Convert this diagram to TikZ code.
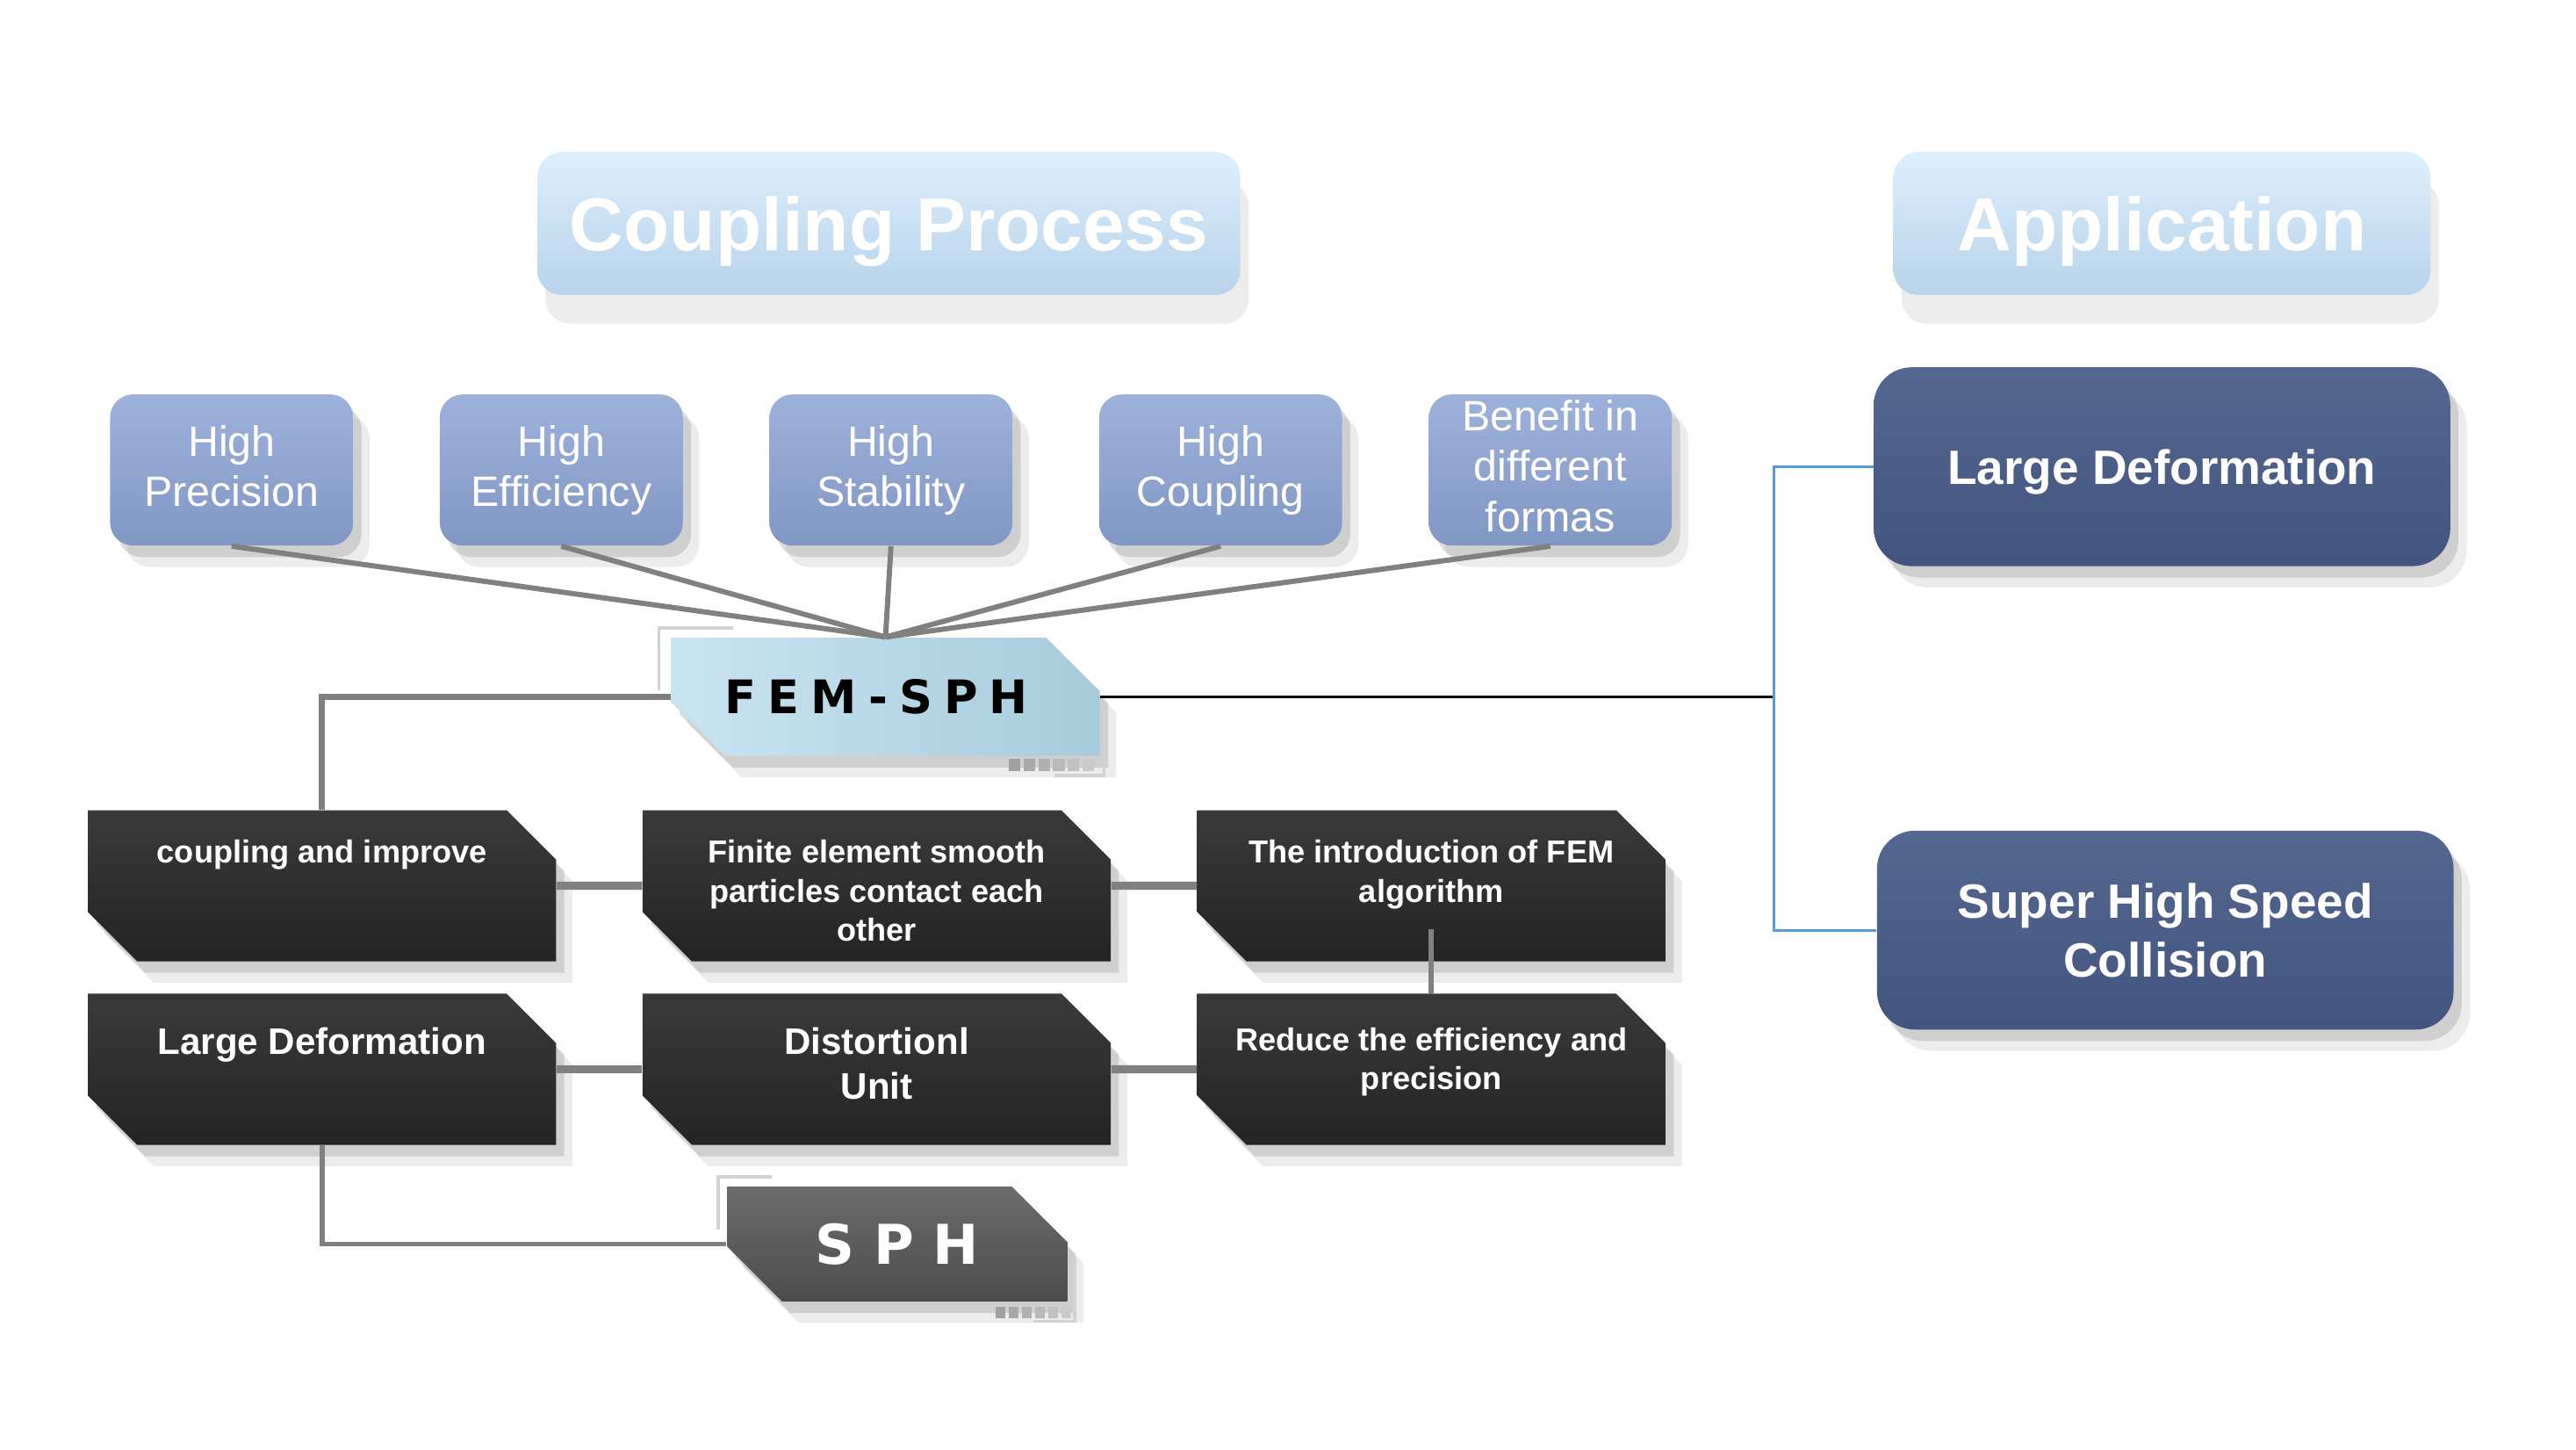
\documentclass[tikz,border=0pt]{standalone}
\usepackage{fontspec}
\setmainfont{Liberation Sans}
\newfontfamily\heavyfont{DejaVu Sans}
\usetikzlibrary{positioning}
\usetikzlibrary{calc}
\usetikzlibrary{shapes.misc}
\usetikzlibrary{shadows}
\definecolor{titlelight}{HTML}{DCEFFE}
\definecolor{titledark}{HTML}{B8D3EA}
\definecolor{featlight}{HTML}{9DB2DB}
\definecolor{featdark}{HTML}{8197C4}
\definecolor{applight}{HTML}{53678F}
\definecolor{appdark}{HTML}{42557F}
\definecolor{darklight}{HTML}{3A3A3A}
\definecolor{darkdark}{HTML}{242424}
\definecolor{femlight}{HTML}{C9E4F1}
\definecolor{femdark}{HTML}{A8CBDC}
\definecolor{sphlight}{HTML}{6C6C6C}
\definecolor{sphdark}{HTML}{4C4C4C}
\definecolor{linkgray}{HTML}{808080}
\definecolor{linkblue}{HTML}{5B9BD5}
\definecolor{decogray}{HTML}{D2D2D2}
\tikzstyle{softshadow}=[drop shadow={shadow xshift=0.1cm,shadow yshift=-0.14cm,opacity=0.22,fill=black!60},
                        drop shadow={shadow xshift=0.2cm,shadow yshift=-0.26cm,opacity=0.12,fill=black!60}]
\tikzstyle{titlebox}=[rounded corners=0.3cm,top color=titlelight,bottom color=titledark,minimum height=1.74cm,
                      text=white,text depth=0pt,font=\bfseries\fontsize{26}{30}\selectfont,
                      drop shadow={shadow xshift=0.1cm,shadow yshift=-0.35cm,opacity=0.12,fill=black!60}]
\tikzstyle{featbox}=[rounded corners=0.28cm,top color=featlight,bottom color=featdark,minimum width=2.96cm,
                     minimum height=1.84cm,inner sep=0pt,text depth=0.1cm,text=white,align=center,
                     font=\fontsize{14.7}{17.6}\selectfont,softshadow]
\tikzstyle{appbox}=[rounded corners=0.46cm,top color=applight,bottom color=appdark,minimum width=7.02cm,
                    minimum height=2.42cm,text=white,align=center,
                    font=\bfseries\fontsize{16.7}{20.5}\selectfont,softshadow]
\tikzstyle{cutbox}=[chamfered rectangle,chamfered rectangle corners={north east,south west},
                    chamfered rectangle xsep=#1,chamfered rectangle ysep=#1,inner sep=0pt]
\tikzstyle{darkbox}=[cutbox=0.3cm,top color=darklight,bottom color=darkdark,minimum width=5.7cm,
                     minimum height=1.84cm,text=white,font=\bfseries\fontsize{11}{13.6}\selectfont,softshadow]
\tikzstyle{femsphbox}=[cutbox=0.44cm,left color=femlight,right color=femdark,minimum width=5.22cm,
                       minimum height=1.44cm,text=black,font=\heavyfont\bfseries\fontsize{16}{18}\selectfont,softshadow]
\tikzstyle{sphbox}=[cutbox=0.42cm,top color=sphlight,bottom color=sphdark,minimum width=4.14cm,
                    minimum height=1.4cm,text=white,font=\heavyfont\bfseries\fontsize{19}{22}\selectfont,softshadow]
\tikzstyle{featlink}=[linkgray,line width=1.8pt]
\tikzstyle{graylink}=[linkgray,line width=#1]
\tikzstyle{decoline}=[decogray,line width=1.1pt]
\newcommand{\toptext}[2][0.34cm]{\parbox[c][1.24cm][t]{5.1cm}{\centering\rule{0pt}{#1}#2}}

\begin{document}
\begin{tikzpicture}[x=0.02cm,y=-0.02cm]
  \useasboundingbox (0,0) rectangle (1568,882);
  \def\gap{1.04cm} % space between two boxes of a row
  \def\rowgap{0.38cm} % space between the two dark rows

  % titles
  \node[titlebox,minimum width=8.56cm] (tcp) at (541,136) {Coupling Process};
  \node[titlebox,minimum width=6.54cm] (tapp) at (1316,136) {Application};

  % features
  \node[featbox] (hp) at (141,286) {High\\Precision};
  \node[featbox,right=\gap of hp] (he) {High\\Efficiency};
  \node[featbox,right=\gap of he] (hs) {High\\Stability};
  \node[featbox,right=\gap of hs] (hc) {High\\Coupling};
  \node[featbox,right=\gap of hc] (bf) {Benefit in\\different\\formas};

  % FEM-SPH
  \node[femsphbox] (fs) at (539,424) {F\hspace{0.25em}E\hspace{0.25em}M\hspace{0.25em}-\hspace{0.25em}S\hspace{0.25em}P\hspace{0.25em}H\kern0.22cm};
  \foreach \f in {hp,he,hs,hc,bf}
    \draw[featlink] (\f.south) -- (fs.north);

  % dark rows
  \node[darkbox] (cai) at (196,539) {\toptext{coupling and improve}};
  \node[darkbox,right=\gap of cai] (fes) {\toptext{Finite element smooth\\particles contact each\\other}};
  \node[darkbox,right=\gap of fes] (ifa) {\toptext{The introduction of FEM\\algorithm}};
  \node[darkbox,below=\rowgap of cai,font=\bfseries\fontsize{12.8}{15.4}\selectfont] (ld)
    {\toptext[0.44cm]{Large Deformation}};
  \node[darkbox,below=\rowgap of fes,font=\bfseries\fontsize{12.8}{15.4}\selectfont] (du)
    {\toptext[0.44cm]{Distortionl\\Unit}};
  \node[darkbox,below=\rowgap of ifa] (rep) {\toptext[0.39cm]{Reduce the efficiency and\\precision}};

  % SPH
  \node[sphbox] (sph) at (546,757) {S P H};

  % applications
  \node[appbox,text depth=0pt] (ald) at (1316,284) {Large Deformation};
  \node[appbox] (ash) at (1318,566) {Super High Speed\\Collision};

  % links
  \draw[graylink=2pt] (fs.west) -| (cai.north);
  \draw[graylink=2.8pt] (cai) -- (fes);
  \draw[graylink=2.8pt] (fes) -- (ifa);
  \draw[graylink=2.8pt] (ld) -- (du);
  \draw[graylink=2.8pt] (du) -- (rep);
  \draw[graylink=1.8pt] ($(ifa.south)+(0,-20)$) -- (rep.north);
  \draw[graylink=1.8pt] (ld.south) |- (sph.west);
  \coordinate (split) at (1080,424);
  \draw[black,line width=0.8pt] (fs.east) -- (split);
  \draw[linkblue,line width=0.9pt] (ald.west) -| (split) |- (ash.west);

  % corner marks
  \draw[decoline] (401,420) -- (401,382) -- (446,382);
  \draw[decoline] (642,472) -- (672,472) -- (672,433);
  \foreach \i [evaluate=\i as \s using int(24-\i*4)] in {0,...,5}
    \fill[black!\s!decogray] (614+\i*9,462) rectangle ++(7,7);
  \draw[decoline] (437,748) -- (437,716) -- (470,716);
  \draw[decoline] (629,804) -- (654,804) -- (654,765);
  \foreach \i [evaluate=\i as \s using int(24-\i*4)] in {0,...,5}
    \fill[black!\s!decogray] (606+\i*8,795) rectangle ++(6,7);
\end{tikzpicture}
\end{document}
